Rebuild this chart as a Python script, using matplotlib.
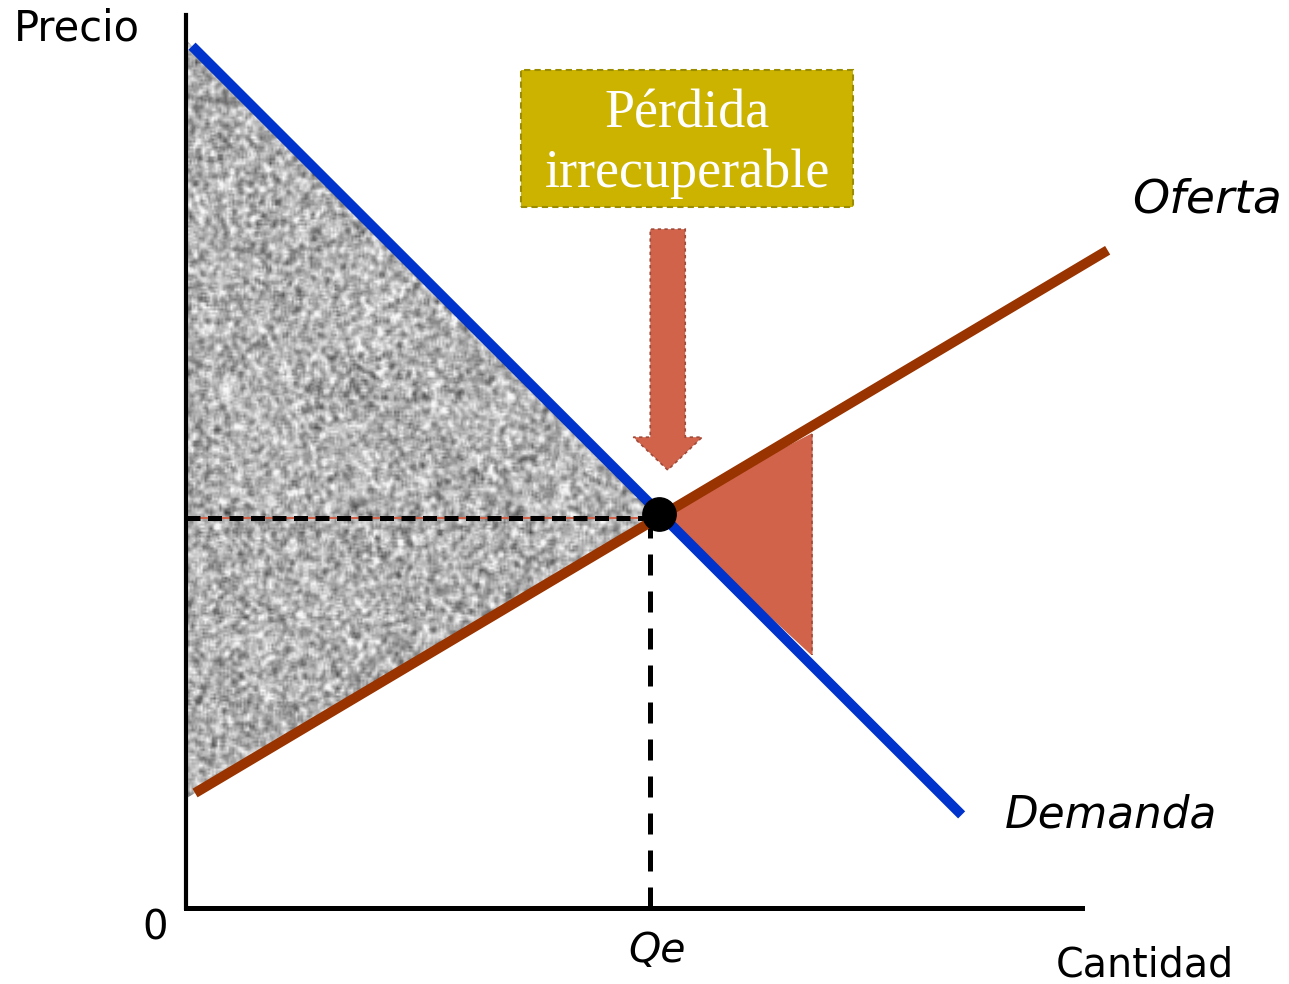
import numpy as np
import matplotlib
matplotlib.use("Agg")
import matplotlib.pyplot as plt
from matplotlib.patches import Polygon, Rectangle, FancyArrow

# curves (quantity, price)
demand_q = [0.65, 83.4]
demand_p = [110.2, 11.9]
supply_q = [0.97, 99.1]
supply_p = [14.7, 84.1]

eq_q, eq_p = 50.9, 50.4       # equilibrium point
qe, pe = 49.9, 49.9           # dashed guide lines

# shaded regions
gray_q = [0, eq_q, 0]
gray_p = [111.0, eq_p, 14.0]
dwl_q = [eq_q, 67.3, 67.3]
dwl_p = [eq_p, 60.6, 32.4]

x_max, y_max = 96.3, 114.2

fig = plt.figure(figsize=(12.89, 9.84), dpi=100)
ax = fig.add_axes([0, 0, 1, 1])
ax.set_xlim(-20.0, 118.6)
ax.set_ylim(-9.72, 116.1)
ax.axis('off')

# grainy gray texture for the surplus triangle
rng = np.random.default_rng(3)
noise = rng.normal(size=(400, 260))
k = np.ones(3) / 3.0
noise = np.apply_along_axis(lambda r: np.convolve(r, k, mode='same'), 1, noise)
noise = np.apply_along_axis(lambda c: np.convolve(c, k, mode='same'), 0, noise)
noise = noise / noise.std()
tex = np.clip(0.70 + 0.115 * noise, 0.2, 0.97)
tri = Polygon(np.column_stack([gray_q, gray_p]), closed=True, facecolor='none', edgecolor='none')
ax.add_patch(tri)
img = ax.imshow(tex, cmap='gray', vmin=0, vmax=1, extent=[0, eq_q + 1, 12, 113],
                origin='upper', aspect='auto', interpolation='bilinear', zorder=1)
img.set_clip_path(tri)

# deadweight loss triangle
ax.fill(dwl_q, dwl_p, color='#d0634a', zorder=2)
ax.plot([dwl_q[1], dwl_q[2]], [dwl_p[1], dwl_p[2]], color='#a04a3a', lw=1.2, ls=(0, (2, 2)), zorder=2)

# guide lines
ax.plot([0, qe], [pe, pe], color='#d0634a', lw=1.5, zorder=3)
ax.plot([0, qe], [pe, pe], color='black', lw=3.6, dashes=(2.8, 1.5), zorder=3)
ax.plot([qe, qe], [0, pe], color='black', lw=3.6, dashes=(4.2, 3.2), zorder=3)

# supply and demand
ax.plot(supply_q, supply_p, color='#993300', lw=7.2, solid_capstyle='butt', zorder=4)
ax.plot(demand_q, demand_p, color='#0033cc', lw=7.2, solid_capstyle='butt', zorder=5)
ax.plot([eq_q], [eq_p], 'o', color='black', markersize=24, zorder=6)

# axes
ax.plot([0, 0], [0, y_max], color='black', lw=3.0, zorder=7)
ax.plot([0, x_max], [0, 0], color='black', lw=3.6, zorder=7)

# arrow pointing at the equilibrium
ax.add_patch(FancyArrow(51.8, 86.8, 0, -30.8, width=3.76, head_width=7.4, head_length=4.2,
                        length_includes_head=True, facecolor='#d0634a', edgecolor='#a04a3a',
                        lw=1.2, ls=(0, (2, 2)), zorder=8))

# label box
ax.add_patch(Rectangle((36.0, 89.6), 35.7, 17.6, facecolor='#cbb300', edgecolor='#9c8c00',
                       lw=1.5, ls=(0, (3, 2)), zorder=8))
ax.text(53.9, 97.7, 'Pérdida\nirrecuperable', ha='center', va='center', color='white',
        fontsize=39, family='Liberation Serif', linespacing=1.22, zorder=9)

# text labels
ax.text(-18.5, 112.5, 'Precio', ha='left', va='center', fontsize=30, family='DejaVu Sans')
ax.text(109.8, 90.5, 'Oferta', ha='center', va='center', fontsize=34, style='italic', family='DejaVu Sans')
ax.text(99.5, 11.9, 'Demanda', ha='center', va='center', fontsize=31.5, style='italic', family='DejaVu Sans')
ax.text(50.6, -5.4, 'Qe', ha='center', va='center', fontsize=29.5, style='italic', family='DejaVu Sans')
ax.text(103.1, -7.4, 'Cantidad', ha='center', va='center', fontsize=28.5, family='DejaVu Sans')
ax.text(-3.3, -2.6, '0', ha='center', va='center', fontsize=29, family='DejaVu Sans')

fig.savefig('out.png', dpi=100)
